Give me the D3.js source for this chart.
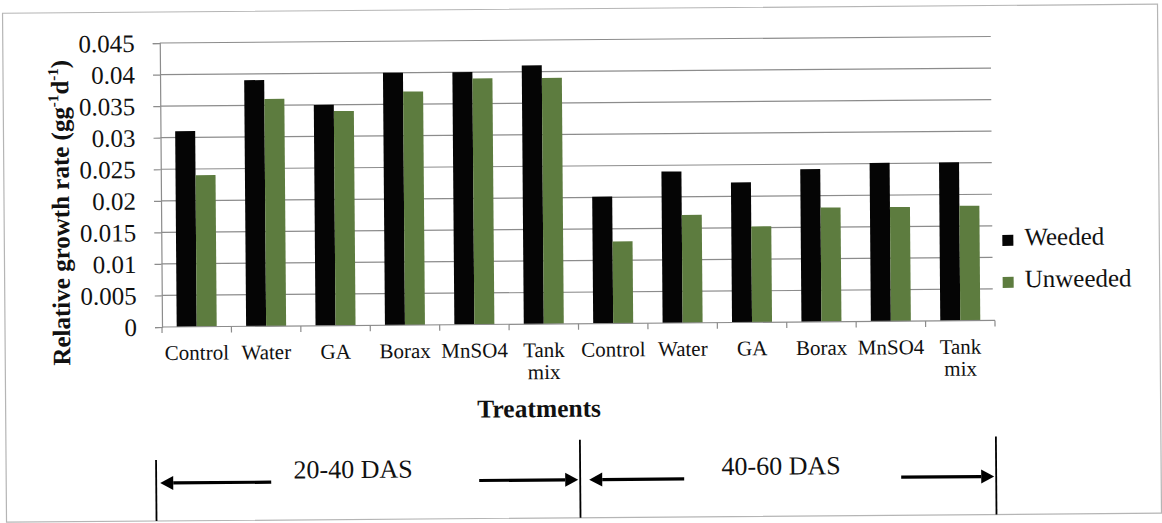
<!DOCTYPE html>
<html>
<head>
<meta charset="utf-8">
<script src="https://cdn.jsdelivr.net/npm/d3@7"></script>
<style>
  html, body { margin: 0; padding: 0; background: #fff; }
  svg { display: block; }
</style>
</head>
<body>
<svg id="chart" width="1162" height="523"></svg>
<script>
// ---- data ----
const categories = ["Control", "Water", "GA", "Borax", "MnSO4", "Tank mix",
                    "Control", "Water", "GA", "Borax", "MnSO4", "Tank mix"];
const series = ["Weeded", "Unweeded"];
const weeded   = [0.031, 0.039, 0.035, 0.040, 0.040, 0.041,
                  0.0201, 0.0240, 0.0222, 0.0242, 0.0251, 0.0251];
const unweeded = [0.024, 0.036, 0.034, 0.037, 0.039, 0.039,
                  0.0130, 0.0171, 0.0152, 0.0181, 0.0181, 0.0182];
const yTicks = [0, 0.005, 0.01, 0.015, 0.02, 0.025, 0.03, 0.035, 0.04, 0.045];
const periods = ["20-40 DAS", "40-60 DAS"];

const colors = { "Weeded": "#050505", "Unweeded": "#5d7c3f" };
const FONT = "'Liberation Serif', 'Times New Roman', serif";

const svg = d3.select("#chart").style("font-family", FONT);
// slight scan tilt of the original
const g = svg.append("g").attr("transform", "rotate(-0.45,162,327)");

// outer frame
g.append("rect").attr("x", 5).attr("y", 12).attr("width", 1155).attr("height", 509)
  .attr("fill", "none").attr("stroke", "#b5b5b5").attr("stroke-width", 1.2);

const pLeft = 162, pRight = 995, pTop = 43, pBottom = 327;

const xCat = d3.scaleBand().domain(d3.range(categories.length)).range([pLeft, pRight]).padding(0);
const x1 = d3.scaleBand().domain(series).range([0, xCat.bandwidth()]).paddingInner(0).paddingOuter(0.735);
const y = d3.scaleLinear().domain([0, 0.045]).range([pBottom, pTop]);

// gridlines
g.append("g").selectAll("line").data(yTicks.filter(d => d > 0)).join("line")
  .attr("x1", pLeft).attr("x2", pRight - 2)
  .attr("y1", d => y(d)).attr("y2", d => y(d))
  .attr("stroke", "#8c8c8c").attr("stroke-width", 1.2);

// y axis
const yAxis = g.append("g").attr("transform", `translate(${pLeft},0)`)
  .call(d3.axisLeft(y).tickValues(yTicks).tickSize(7).tickPadding(18)
        .tickFormat(d => d === 0 ? "0" : String(+d.toFixed(3))));
yAxis.attr("font-family", null).attr("font-size", null);
yAxis.select(".domain").attr("stroke", "#8c8c8c").attr("stroke-width", 1.2);
yAxis.selectAll(".tick line").attr("stroke", "#8c8c8c").attr("stroke-width", 1.2);
yAxis.selectAll(".tick text").style("font-family", FONT).style("font-size", "25px")
  .attr("fill", "#111").attr("dy", "0.33em");

// bars
const rows = categories.map((c, i) => ({ i, values: [weeded[i], unweeded[i]] }));
g.append("g").selectAll("g").data(rows).join("g")
  .attr("transform", d => `translate(${xCat(d.i)},0)`)
  .selectAll("rect").data(d => series.map((s, k) => ({ s, v: d.values[k] }))).join("rect")
  .attr("x", d => x1(d.s)).attr("width", x1.bandwidth())
  .attr("y", d => y(d.v)).attr("height", d => y(0) - y(d.v))
  .attr("fill", d => colors[d.s]);

// x axis
const xLin = d3.scaleLinear().domain([0, categories.length]).range([pLeft, pRight]);
const xAxisG = g.append("g");
xAxisG.append("line").attr("x1", pLeft).attr("x2", pRight).attr("y1", pBottom).attr("y2", pBottom)
  .attr("stroke", "#8c8c8c").attr("stroke-width", 1.2);
xAxisG.selectAll("line.tk").data(d3.range(categories.length + 1)).join("line").attr("class", "tk")
  .attr("x1", d => xLin(d)).attr("x2", d => xLin(d))
  .attr("y1", pBottom).attr("y2", pBottom + 6)
  .attr("stroke", "#8c8c8c").attr("stroke-width", 1.2);

// x labels
const xl = g.append("g").selectAll("text").data(categories).join("text")
  .attr("x", (d, i) => xCat(i) + xCat.bandwidth() / 2)
  .attr("y", 360).attr("text-anchor", "middle")
  .style("font-family", FONT).style("font-size", "21px").attr("fill", "#111");
xl.each(function(d) {
  const t = d3.select(this);
  d.split(" ").forEach((p, k) => {
    t.append("tspan").attr("x", t.attr("x")).attr("dy", k === 0 ? 0 : 22).text(p);
  });
});

// axis titles
g.append("text").attr("x", (pLeft + pRight) / 2 - 40).attr("y", 420)
  .attr("text-anchor", "middle").style("font-family", FONT).style("font-size", "25.5px")
  .attr("font-weight", "bold").attr("fill", "#111")
  .text("Treatments");

const yt = g.append("text").attr("transform", "translate(70,212) rotate(-90)")
  .attr("text-anchor", "middle").style("font-family", FONT).style("font-size", "25px")
  .attr("font-weight", "bold").attr("fill", "#111");
yt.append("tspan").text("Relative growth rate (gg");
yt.append("tspan").style("font-size", "15px").attr("dy", -10).text("-1");
yt.append("tspan").attr("dy", 10).text("d");
yt.append("tspan").style("font-size", "15px").attr("dy", -10).text("-1");
yt.append("tspan").attr("dy", 10).text(")");

// legend
const lg = g.append("g").selectAll("g").data(series).join("g")
  .attr("transform", (d, i) => `translate(1003,${241.5 + i * 42})`);
lg.append("rect").attr("width", 11).attr("height", 11).attr("fill", d => colors[d]);
lg.append("text").attr("x", 22).attr("y", 10.5)
  .style("font-family", FONT).style("font-size", "25px").attr("fill", "#111").text(d => d);

// period annotation
const ann = g.append("g");
const bx = [155, 579, 995];
const btop = [460, 443, 443];
ann.selectAll("line.v").data(bx).join("line").attr("class", "v")
  .attr("x1", d => d).attr("x2", d => d).attr("y1", (d, i) => btop[i]).attr("y2", 521)
  .attr("stroke", "#000").attr("stroke-width", 1.8);

function arrow(xa, xb, yy) { // from xa to tip at xb
  const dir = Math.sign(xb - xa);
  const headL = 13, headW = 7;
  ann.append("line").attr("x1", xa).attr("x2", xb - dir * headL).attr("y1", yy).attr("y2", yy)
    .attr("stroke", "#000").attr("stroke-width", 3.2);
  ann.append("path")
    .attr("d", `M${xb},${yy} L${xb - dir * headL},${yy - headW} L${xb - dir * headL},${yy + headW} Z`)
    .attr("fill", "#000");
}
arrow(270, 159, 483);
arrow(478, 577, 483);
arrow(683, 588, 483);
arrow(900, 993, 483);

ann.selectAll("text").data(periods).join("text")
  .attr("x", (d, i) => [352, 780][i]).attr("y", 479.5)
  .attr("text-anchor", "middle").style("font-family", FONT).style("font-size", "26px")
  .attr("fill", "#111").text(d => d);
</script>
</body>
</html>
